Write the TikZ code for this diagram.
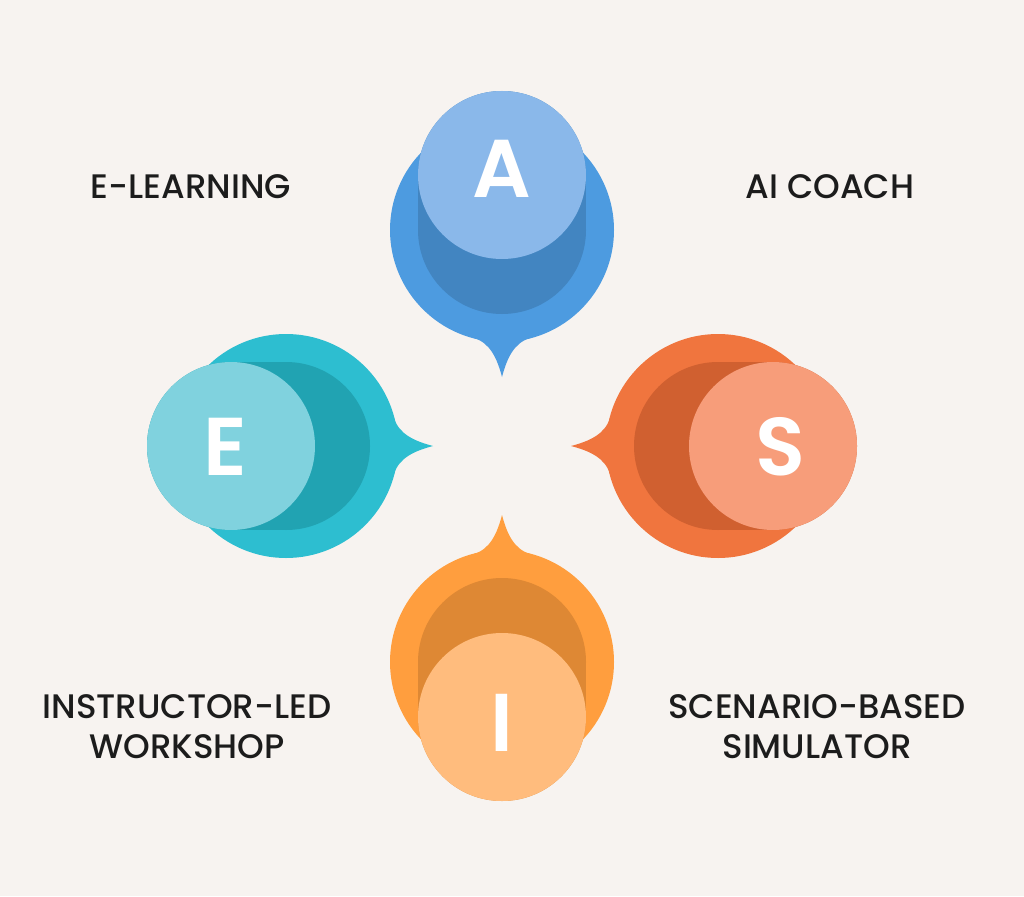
\documentclass[tikz,border=0pt]{standalone}
\usepackage{fontspec}
\setmainfont{Poppins}
\newfontfamily\labelfont{Poppins Medium}
\newfontfamily\letterfont{Poppins SemiBold}
\definecolor{bg}{RGB}{247,243,240}
\definecolor{ink}{RGB}{28,28,28}
\definecolor{aBig}{RGB}{77,155,224}
\definecolor{aDark}{RGB}{66,133,193}
\definecolor{aLight}{RGB}{138,184,234}
\definecolor{eBig}{RGB}{45,190,208}
\definecolor{eDark}{RGB}{33,163,178}
\definecolor{eLight}{RGB}{128,210,222}
\definecolor{sBig}{RGB}{240,117,62}
\definecolor{sDark}{RGB}{208,96,48}
\definecolor{sLight}{RGB}{247,157,122}
\definecolor{iBig}{RGB}{255,158,62}
\definecolor{iDark}{RGB}{222,136,52}
\definecolor{iLight}{RGB}{255,188,125}
\newcommand\drawbubble[6]{%
  \begin{scope}[shift={(#1,#2)}, rotate=#3]
    \fill[#4] (0,0) circle (112pt);
    \fill[#4] (-28,108) .. controls (-12,113) and (-5,128) .. (0,147)
      .. controls (5,128) and (12,113) .. (28,108) -- (0,0) -- cycle;
    \fill[#5] (0,0) circle (84pt);
    \fill[#5] (0,-55) circle (84pt);
    \fill[#5] (-84,0) rectangle (84,-55);
    \fill[#6] (0,-55) circle (84pt);
  \end{scope}}
\tikzset{
  label text/.style={font=\labelfont\fontsize{34}{40}\selectfont, text=ink, align=center},
  letter text/.style={font=\letterfont\fontsize{82}{82}\selectfont, text=white, inner sep=0pt}
}
\begin{document}
\begin{tikzpicture}[x=1pt, y=-1pt]
  \fill[bg] (0,0) rectangle (1024,896);
  \useasboundingbox (0,0) rectangle (1024,896);
  \drawbubble{502}{230}{0}{aBig}{aDark}{aLight}
  \drawbubble{286}{446}{90}{eBig}{eDark}{eLight}
  \drawbubble{718}{446}{-90}{sBig}{sDark}{sLight}
  \drawbubble{502}{662}{180}{iBig}{iDark}{iLight}
  \node[letter text] (la) at (502,169) {A};
  \node[letter text] (le) at (225,447) {E};
  \node[letter text] (ls) at (780,447) {S};
  \node[letter text] (li) at (502,723) {I};
  \node[label text] (t1) at (191,187) {E-LEARNING};
  \node[label text] (t2) at (830,187) {AI COACH};
  \node[label text] (t3) at (187,727) {INSTRUCTOR-LED\\WORKSHOP};
  \node[label text] (t4) at (817,727) {SCENARIO-BASED\\SIMULATOR};
\end{tikzpicture}
\end{document}
